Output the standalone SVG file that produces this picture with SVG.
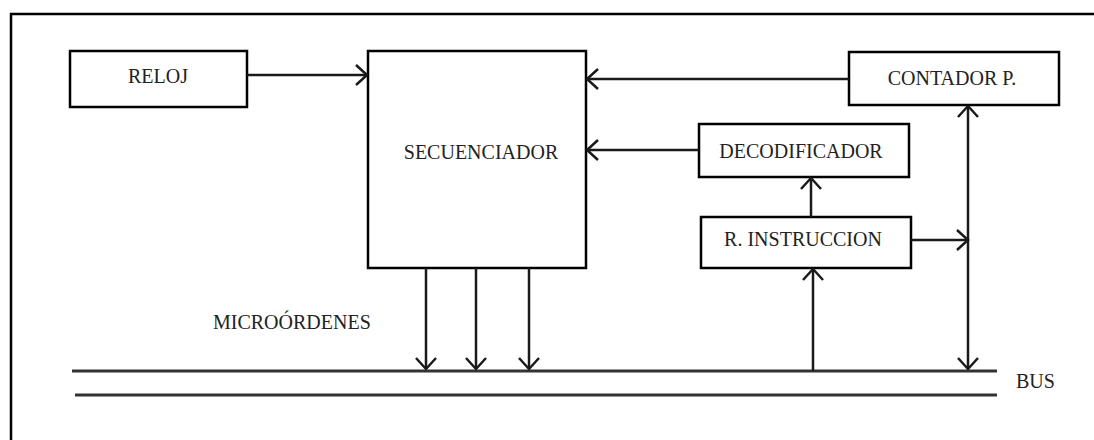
<svg xmlns="http://www.w3.org/2000/svg" width="1094" height="440" viewBox="0 0 1094 440">
<style>
.box{fill:#fff;stroke:#000;stroke-width:2.5}
.frame{fill:none;stroke:#000;stroke-width:2.5}
.ln{fill:none;stroke:#1a1a1a;stroke-width:2.5}
.bus{fill:none;stroke:#333;stroke-width:3}
.t{font-family:"Liberation Serif","Times New Roman",serif;font-size:20px;fill:#222}
.m{text-anchor:middle}
</style>
<defs>
<marker id="ah" markerUnits="userSpaceOnUse" markerWidth="14" markerHeight="22" refX="11" refY="10" orient="auto" overflow="visible">
<path d="M0,0 L11,10 L0,20" fill="none" stroke="#1a1a1a" stroke-width="2.5"/>
</marker>
</defs>
<rect class="frame" x="11" y="14" width="1100" height="440"/>
<g id="reloj"><rect class="box" x="70" y="51" width="177" height="56"/><text class="t m" x="158" y="83">RELOJ</text></g>
<g id="secuenciador"><rect class="box" x="368" y="51" width="218" height="217"/><text class="t m" x="481" y="159">SECUENCIADOR</text></g>
<g id="contador"><rect class="box" x="849" y="52" width="210" height="53"/><text class="t m" x="952" y="85">CONTADOR P.</text></g>
<g id="decodificador"><rect class="box" x="699" y="124" width="210" height="53"/><text class="t m" x="801" y="158">DECODIFICADOR</text></g>
<g id="rinstruccion"><rect class="box" x="701" y="217" width="210" height="51"/><text class="t m" x="803" y="246">R. INSTRUCCION</text></g>
<g id="bus"><line class="bus" x1="72" y1="371" x2="997" y2="371"/><line class="bus" x1="75" y1="395" x2="997" y2="395"/><text class="t" x="1016" y="388">BUS</text></g>
<g id="label"><text class="t" x="213" y="329">MICROÓRDENES</text></g>
<g id="connectors">
<line class="ln" x1="247" y1="75" x2="367" y2="75" marker-end="url(#ah)"/>
<line class="ln" x1="849" y1="79" x2="587" y2="79" marker-end="url(#ah)"/>
<line class="ln" x1="699" y1="150" x2="587" y2="150" marker-end="url(#ah)"/>
<line class="ln" x1="811" y1="217" x2="811" y2="178" marker-end="url(#ah)"/>
<line class="ln" x1="911" y1="240" x2="968" y2="240" marker-end="url(#ah)"/>
<line class="ln" x1="968" y1="238" x2="968" y2="106" marker-end="url(#ah)"/>
<line class="ln" x1="968" y1="238" x2="968" y2="369" marker-end="url(#ah)"/>
<line class="ln" x1="813" y1="371" x2="813" y2="269" marker-end="url(#ah)"/>
<line class="ln" x1="426" y1="268" x2="426" y2="369" marker-end="url(#ah)"/>
<line class="ln" x1="476" y1="268" x2="476" y2="369" marker-end="url(#ah)"/>
<line class="ln" x1="529" y1="268" x2="529" y2="369" marker-end="url(#ah)"/>
</g>
</svg>
